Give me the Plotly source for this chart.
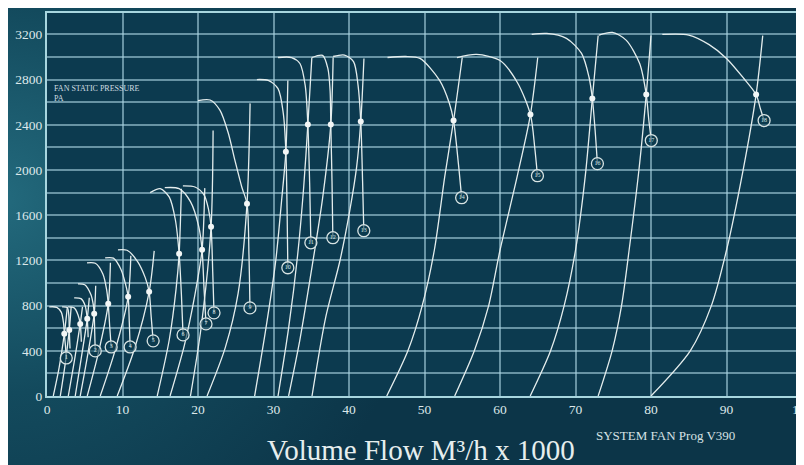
import base64
import plotly.graph_objects as go

# ---------------- data ----------------
x_ticks = [0, 10, 20, 30, 40, 50, 60, 70, 80, 90, 100]
y_ticks = [0, 400, 800, 1200, 1600, 2000, 2400, 2800, 3200]

# fan curves (flow in m3/h x 1000, static pressure in Pa)
arc_flow = [
    [0.3, 1.3, 1.9, 2.2, 2.29, 2.45, 2.55],
    [2.0, 2.7, 2.9, 2.95, 3.05],
    [2.8, 3.6, 4.1, 4.4, 4.55],
    [3.6, 4.5, 5.05, 5.33, 5.45],
    [4.1, 5.0, 5.8, 6.15, 6.25, 6.32, 6.39],
    [5.3, 6.4, 7.4, 7.9, 8.11, 8.3, 8.5],
    [7.7, 8.8, 9.8, 10.4, 10.75, 10.9, 11.01],
    [9.4, 10.6, 12.0, 13.0, 13.53, 13.8, 14.06],
    [13.66, 15.0, 16.2, 17.0, 17.5, 17.8, 18.02],
    [15.6, 17.5, 19.0, 20.1, 20.54, 20.8, 21.06],
    [18.0, 19.6, 20.8, 21.4, 21.73, 21.95, 22.12],
    [20.0, 21.6, 22.9, 24.0, 24.9, 25.8, 26.49, 26.75, 26.88],
    [27.8, 29.3, 30.6, 31.3, 31.64, 31.8, 31.9],
    [30.6, 32.4, 33.5, 34.2, 34.55, 34.8, 34.95],
    [35.1, 36.5, 37.2, 37.5, 37.59, 37.75, 37.86],
    [37.9, 39.4, 40.6, 41.2, 41.56, 41.8, 41.96],
    [45.1, 47.5, 49.4, 52.0, 53.3, 53.85, 54.5, 54.92],
    [54.3, 56.9, 60.0, 62.3, 64.03, 64.6, 64.96],
    [64.2, 66.2, 68.8, 70.8, 71.8, 72.23, 72.6, 72.9],
    [73.1, 74.9, 76.7, 78.5, 79.37, 79.7, 80.04],
    [81.5, 85.0, 87.7, 90.0, 92.3, 93.92, 94.5, 94.98],
]
arc_pressure = [
    [789, 785, 740, 640, 550, 440, 337],
    [789, 782, 700, 585, 420],
    [789, 780, 720, 638, 480],
    [869, 862, 800, 683, 520],
    [993, 985, 900, 800, 727, 560, 399],
    [1179, 1175, 1080, 940, 816, 620, 434],
    [1223, 1220, 1120, 990, 878, 650, 434],
    [1294, 1290, 1190, 1050, 922, 700, 488],
    [1800, 1835, 1760, 1560, 1259, 900, 541],
    [1844, 1835, 1720, 1500, 1294, 950, 638],
    [1860, 1850, 1780, 1650, 1498, 1100, 736],
    [2615, 2620, 2530, 2330, 2083, 1850, 1702, 1250, 780],
    [2801, 2793, 2720, 2500, 2163, 1650, 1135],
    [2996, 2996, 2943, 2748, 2402, 1850, 1356],
    [2996, 3015, 2900, 2700, 2402, 1900, 1401],
    [3005, 3018, 2960, 2750, 2429, 1900, 1463],
    [2996, 3005, 2988, 2793, 2589, 2438, 2050, 1755],
    [2996, 3023, 2970, 2775, 2491, 2200, 1950],
    [3200, 3209, 3165, 3032, 2819, 2633, 2350, 2057],
    [3195, 3218, 3150, 2943, 2668, 2450, 2261],
    [3200, 3195, 3110, 2988, 2810, 2668, 2540, 2438],
]

# system curves
sys_flow = [
    [0.83, 1.6, 2.29, 2.7],
    [1.76, 2.4, 2.95, 3.2],
    [2.82, 3.6, 4.4, 4.7],
    [3.74, 4.5, 5.33, 5.6],
    [4.40, 5.3, 6.25, 6.45],
    [5.33, 6.8, 8.11, 8.4],
    [7.05, 9.0, 10.75, 11.1],
    [9.3, 11.6, 13.53, 14.2],
    [14.6, 16.2, 17.1, 17.5, 17.8],
    [16.3, 18.2, 19.6, 20.54, 20.9],
    [19.0, 20.4, 21.73, 22.0],
    [21.2, 23.6, 25.3, 26.49, 26.9],
    [27.5, 29.0, 30.3, 31.1, 31.64, 31.9],
    [30.6, 32.0, 33.2, 34.0, 34.55, 35.08],
    [32.0, 33.5, 35.0, 36.5, 37.59, 37.9],
    [35.1, 36.9, 38.8, 40.1, 41.0, 41.56, 41.98],
    [45.0, 47.8, 49.7, 51.3, 52.7, 53.85, 55.0],
    [54.0, 56.6, 58.5, 60.0, 62.3, 64.03, 65.0],
    [64.0, 66.7, 68.5, 70.0, 71.3, 72.23, 73.0],
    [73.0, 74.85, 76.1, 77.1, 78.4, 79.37, 80.0],
    [80.0, 85.2, 88.0, 90.0, 92.2, 93.92, 94.8],
]
sys_pressure = [
    [0, 250, 550, 789],
    [0, 280, 585, 789],
    [0, 300, 638, 789],
    [0, 320, 683, 869],
    [0, 330, 727, 975],
    [0, 380, 816, 1179],
    [0, 400, 878, 1241],
    [0, 420, 922, 1285],
    [0, 500, 950, 1259, 1835],
    [0, 450, 900, 1294, 1840],
    [0, 600, 1498, 2350],
    [0, 426, 904, 1702, 2590],
    [0, 600, 1200, 1750, 2163, 2793],
    [0, 600, 1250, 1850, 2402, 2996],
    [0, 500, 1100, 1750, 2402, 2996],
    [0, 692, 1197, 1640, 2021, 2429, 2988],
    [0, 400, 800, 1290, 1950, 2438, 2996],
    [0, 400, 800, 1290, 1950, 2491, 2996],
    [0, 400, 800, 1290, 1950, 2633, 3191],
    [0, 400, 800, 1290, 2000, 2668, 3191],
    [0, 400, 800, 1290, 2000, 2668, 3190],
]

# operating points (dots)
op_flow = [2.29, 2.95, 4.40, 5.33, 6.25, 8.11, 10.75, 13.53, 17.5, 20.54, 21.73,
           26.49, 31.64, 34.55, 37.59, 41.56, 53.85, 64.03, 72.23, 79.37, 93.92]
op_pressure = [550, 585, 638, 683, 727, 816, 878, 922, 1259, 1294, 1498,
               1702, 2163, 2402, 2402, 2429, 2438, 2491, 2633, 2668, 2668]

# numbered end markers
end_flow = [2.55, 6.39, 8.50, 11.01, 14.06, 18.02, 21.06, 22.12, 26.88, 31.90,
            34.95, 37.86, 41.96, 54.92, 64.96, 72.90, 80.04, 94.98]
end_pressure = [337, 399, 434, 434, 488, 541, 638, 736, 780, 1135,
                1356, 1401, 1463, 1755, 1950, 2057, 2261, 2438]
end_labels = [str(i) for i in range(1, 19)]

# ---------------- figure ----------------
OFF = 8                      # page body margin in the browser
W, H = 804 - OFF, 465 - OFF
ML, MR, MT, MB = 47 - OFF, 2, 13 - OFF, 69
PW, PH = W - ML - MR, H - MT - MB

LINE = "#e4eded"
SERIF = "Liberation Serif"

fig = go.Figure()

for fx, fy in zip(sys_flow, sys_pressure):
    fig.add_trace(go.Scatter(x=fx, y=fy, mode="lines",
                             line=dict(color=LINE, width=1.3, shape="spline", smoothing=0.8),
                             hoverinfo="skip", showlegend=False))
for fx, fy in zip(arc_flow, arc_pressure):
    fig.add_trace(go.Scatter(x=fx, y=fy, mode="lines",
                             line=dict(color=LINE, width=1.3, shape="spline", smoothing=0.8),
                             hoverinfo="skip", showlegend=False))

fig.add_trace(go.Scatter(x=op_flow, y=op_pressure, mode="markers",
                         marker=dict(size=6, color="#f2f6f6", line=dict(width=0)),
                         hoverinfo="skip", showlegend=False))
fig.add_trace(go.Scatter(x=end_flow, y=end_pressure, mode="markers+text",
                         marker=dict(size=12, color="rgba(12,58,79,0.6)", symbol="circle",
                                     line=dict(color="#d8e4e4", width=1.3)),
                         text=end_labels, textposition="middle center",
                         textfont=dict(family=SERIF, size=6, color="#d8e4e4"),
                         hoverinfo="skip", showlegend=False))

# background with soft glow on the left
svg = f'''<svg xmlns="http://www.w3.org/2000/svg" width="{W}" height="{H}" viewBox="0 0 {W} {H}" preserveAspectRatio="none">
<defs><radialGradient id="g" cx="{-OFF}" cy="{200 - OFF}" r="430" gradientUnits="userSpaceOnUse">
<stop offset="0" stop-color="#236a7d"/><stop offset="0.45" stop-color="#134a5d"/><stop offset="1" stop-color="#0c3548"/></radialGradient></defs>
<rect width="{W}" height="{H}" fill="url(#g)"/>
<rect x="{ML}" y="{MT}" width="{PW}" height="{PH}" fill="#0c3a4f"/></svg>'''
src = "data:image/svg+xml;base64," + base64.b64encode(svg.encode()).decode()

fig.add_layout_image(dict(source=src, xref="paper", yref="paper",
                          x=-ML / PW, y=1 + MT / PH, sizex=W / PW, sizey=H / PH,
                          xanchor="left", yanchor="top", sizing="stretch", layer="below"))

grid = "rgba(170,212,225,0.58)"
frame = "#a8d6df"
tickfont = dict(family=SERIF, size=13.5, color="#dde8ea")

fig.update_xaxes(range=[0, 100], tickvals=x_ticks, ticktext=[str(v) for v in x_ticks],
                 showgrid=True, gridcolor=grid, gridwidth=1.5, zeroline=False,
                 showline=True, mirror=True, linecolor=frame, linewidth=2,
                 ticks="", tickfont=tickfont, automargin=False, ticklabeloverflow="allow")
fig.update_yaxes(range=[0, 3390], tickvals=y_ticks, ticktext=[str(v) for v in y_ticks],
                 showgrid=False, zeroline=False,
                 showline=True, mirror=True, linecolor=frame, linewidth=2,
                 ticks="", tickfont=tickfont, automargin=False)
fig.update_yaxes(minor=dict(dtick=200, showgrid=True, gridcolor=grid, gridwidth=1.5),
                 dtick=400)


def sx(px):
    return (px - OFF - ML) / PW


def sy(py):
    return (MT + PH - (py - OFF)) / PH


fig.update_layout(
    width=W, height=H,
    margin=dict(l=ML, r=MR, t=MT, b=MB),
    paper_bgcolor="#0c3547", plot_bgcolor="rgba(0,0,0,0)",
    font=dict(family=SERIF, color="#dbe6e8"),
    annotations=[
        dict(text="FAN STATIC PRESSURE<br>PA", x=sx(52), y=sy(82), xref="paper", yref="paper",
             xanchor="left", yanchor="top", align="left", showarrow=False,
             font=dict(family=SERIF, size=8, color="#d0dde0")),
        dict(text="SYSTEM FAN Prog V390", x=sx(665), y=sy(435),
             xref="paper", yref="paper", xanchor="center", yanchor="middle", showarrow=False,
             font=dict(family=SERIF, size=13, color="#d6e2e4")),
        dict(text="Volume Flow M³/h x 1000", x=sx(421), y=sy(450),
             xref="paper", yref="paper", xanchor="center", yanchor="middle", showarrow=False,
             font=dict(family=SERIF, size=29, color="#e6eeee")),
    ],
)

fig.write_html("out.html")
